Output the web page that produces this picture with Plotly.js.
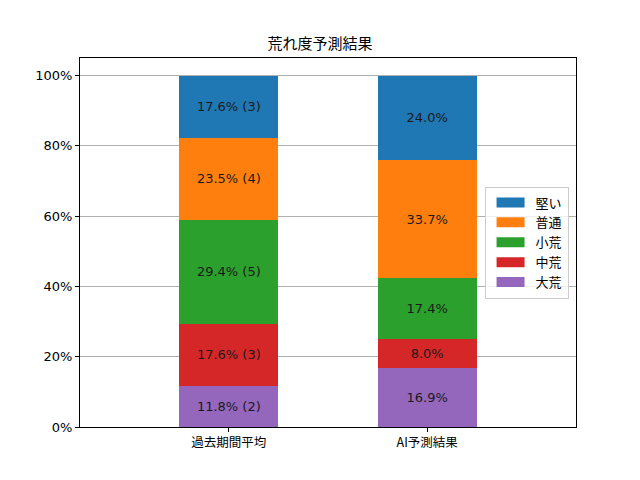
<!DOCTYPE html>
<html>
<head>
<meta charset="utf-8">
<script src="https://cdn.plot.ly/plotly-3.0.1.min.js"></script>
<style>
  html, body { margin: 0; padding: 0; background: #fff; }
  #plot { width: 640px; height: 480px; }
</style>
</head>
<body>
<div id="plot"></div>
<script>
// ----- データ -----
const groups = ["過去期間平均", "AI予測結果"];
const levels = ["大荒", "中荒", "小荒", "普通", "堅い"];        // 下から積み上げ
const colors = ["#9467bd", "#d62728", "#2ca02c", "#ff7f0e", "#1f77b4"];
const pastCounts = [2, 3, 5, 4, 3];                              // 過去期間の件数
const aiPercent  = [16.9, 8.0, 17.4, 33.7, 24.0];               // AI予測 (%)

const FONT = "'Noto Sans CJK JP', 'DejaVu Sans', sans-serif";
const NUM_FONT = "'DejaVu Sans', 'Noto Sans CJK JP', sans-serif";

const pastTotal = pastCounts.reduce((a, b) => a + b, 0);

const traces = levels.map((lv, i) => {
  const pastPct = pastCounts[i] / pastTotal * 100;
  return {
    type: "bar",
    name: lv,
    x: [0, 1],
    y: [pastPct, aiPercent[i]],
    width: 0.5,
    marker: { color: colors[i], line: { width: 0 } },
    text: [
      pastPct.toFixed(1) + "% (" + pastCounts[i] + ")",
      aiPercent[i].toFixed(1) + "%"
    ],
    textposition: "inside",
    insidetextanchor: "middle",
    textangle: 0,
    textfont: { family: NUM_FONT, size: 13, color: "#1a1a1a" },
    hoverinfo: "skip"
  };
});

const layout = {
  width: 640, height: 480,
  barmode: "stack",
  title: {
    text: "荒れ度予測結果",
    font: { family: FONT, size: 15, color: "#000" },
    x: 0.5, xanchor: "center", y: 0.908, yanchor: "middle"
  },
  font: { family: FONT, size: 13, color: "#000" },
  xaxis: {
    range: [-0.75, 1.75],
    tickmode: "array", tickvals: [0, 1], ticktext: groups,
    showgrid: false, zeroline: false,
    showline: true, linecolor: "#000", linewidth: 1, mirror: true,
    ticks: "outside", ticklen: 4, tickcolor: "#000",
    tickfont: { family: FONT, size: 12.5 }
  },
  yaxis: {
    range: [0, 105],
    tickvals: [0, 20, 40, 60, 80, 100],
    ticktext: ["0%", "20%", "40%", "60%", "80%", "100%"],
    showgrid: true, gridcolor: "#b0b0b0", gridwidth: 1,
    zeroline: false,
    showline: true, linecolor: "#000", linewidth: 1, mirror: true,
    ticks: "outside", ticklen: 4, tickcolor: "#000",
    tickfont: { family: NUM_FONT, size: 13 }
  },
  legend: {
    traceorder: "reversed",
    x: 0.985, xanchor: "right", y: 0.5, yanchor: "middle",
    bgcolor: "rgba(255,255,255,0.8)", bordercolor: "#cccccc", borderwidth: 1,
    font: { family: FONT, size: 13 },
    itemwidth: 40
  },
  margin: { l: 80, r: 64, t: 58, b: 53 },
  plot_bgcolor: "#fff",
  paper_bgcolor: "#fff",
  showlegend: true
};

Plotly.newPlot("plot", traces, layout, { displayModeBar: false, staticPlot: true }).then(gd => {
  // 凡例のマーカーを横長の矩形に
  gd.querySelectorAll(".legend .legendpoints path").forEach(p => {
    p.setAttribute("d", "M-14,-5h28v10h-28z");
  });
});
</script>
</body>
</html>
